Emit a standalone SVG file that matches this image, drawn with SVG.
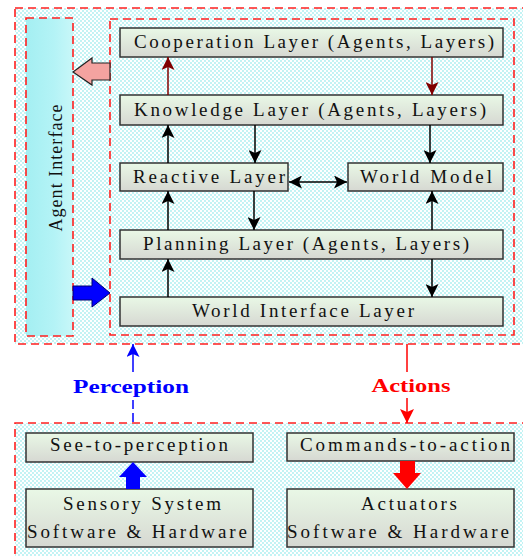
<svg xmlns="http://www.w3.org/2000/svg" width="523" height="556" viewBox="0 0 523 556">
<defs>
<pattern id="dots" width="4" height="4" patternUnits="userSpaceOnUse">
<rect width="4" height="4" fill="#ffffff"/>
<circle cx="1" cy="1" r="0.9" fill="#a6eef0"/>
<circle cx="3" cy="3" r="0.9" fill="#a6eef0"/>
</pattern>
<linearGradient id="nodeg" x1="0" y1="0" x2="0" y2="1">
<stop offset="0" stop-color="#e9f8e6"/>
<stop offset="1" stop-color="#d6d8d2"/>
</linearGradient>
<linearGradient id="cyang" x1="0" y1="0" x2="1" y2="0">
<stop offset="0" stop-color="#a4eff2"/>
<stop offset="0.6" stop-color="#b4f3f6"/>
<stop offset="1" stop-color="#c8f7f8"/>
</linearGradient>
<marker id="ah" markerWidth="13" markerHeight="13" refX="13" refY="6.5" orient="auto" markerUnits="userSpaceOnUse">
<path d="M0,0 L13,6.5 L0,13 L3,6.5 z" fill="#000"/>
</marker>
<marker id="ahs" markerWidth="13" markerHeight="13" refX="0" refY="6.5" orient="auto" markerUnits="userSpaceOnUse">
<path d="M13,0 L0,6.5 L13,13 L10,6.5 z" fill="#000"/>
</marker>
<marker id="ahr" markerWidth="13" markerHeight="13" refX="13" refY="6.5" orient="auto" markerUnits="userSpaceOnUse">
<path d="M0,0 L13,6.5 L0,13 L3,6.5 z" fill="#800000"/>
</marker>
<marker id="ahblue" markerWidth="13" markerHeight="13" refX="13" refY="6.5" orient="auto" markerUnits="userSpaceOnUse">
<path d="M0,0 L13,6.5 L0,13 L3,6.5 z" fill="#0000ff"/>
</marker>
<marker id="ahred" markerWidth="14" markerHeight="14" refX="14" refY="7" orient="auto" markerUnits="userSpaceOnUse">
<path d="M0,0 L14,7 L0,14 L3,7 z" fill="#ff0000"/>
</marker>
</defs>
<style>
.dash{fill:none;stroke:#ff2020;stroke-width:1.6;stroke-dasharray:8,5}
.node rect{fill:url(#nodeg);stroke:#333;stroke-width:1.5}
.node text{font-family:"Liberation Serif","Times New Roman",serif;font-size:19px;fill:#111;text-anchor:middle}
.conn line{stroke:#000;stroke-width:1.5}
.lbl{font-family:"Liberation Serif","Times New Roman",serif;font-size:18px;font-weight:bold;text-anchor:middle}
</style>
<rect width="523" height="556" fill="#ffffff"/>
<rect x="15" y="8" width="520" height="336" fill="url(#dots)"/>
<rect x="15" y="8" width="520" height="336" class="dash"/>
<rect x="110" y="19" width="404" height="316" class="dash"/>
<rect x="15" y="423" width="520" height="150" fill="url(#dots)"/>
<rect x="15" y="423" width="520" height="150" class="dash"/>

<g id="agent-interface">
<rect x="26" y="18" width="47" height="318" fill="url(#cyang)"/>
<rect x="26" y="18" width="47" height="318" class="dash"/>
<text transform="translate(62,168) rotate(-90)" font-family="'Liberation Serif','Times New Roman',serif" font-size="18" text-anchor="middle" fill="#111" textLength="127" lengthAdjust="spacing">Agent Interface</text>
</g>

<g id="cooperation" class="node"><rect x="120" y="28" width="383" height="29"/><text x="314" y="48" textLength="360" lengthAdjust="spacing">Cooperation Layer (Agents, Layers)</text></g>
<g id="knowledge" class="node"><rect x="120" y="95" width="383" height="30"/><text x="310" y="116" textLength="352" lengthAdjust="spacing">Knowledge Layer (Agents, Layers)</text></g>
<g id="reactive" class="node"><rect x="120" y="163" width="168" height="28"/><text x="209" y="183" textLength="152" lengthAdjust="spacing">Reactive Layer</text></g>
<g id="worldmodel" class="node"><rect x="348" y="163" width="155" height="28"/><text x="426" y="183" textLength="132" lengthAdjust="spacing">World Model</text></g>
<g id="planning" class="node"><rect x="120" y="230" width="383" height="29"/><text x="306" y="250" textLength="326" lengthAdjust="spacing">Planning Layer (Agents, Layers)</text></g>
<g id="worldinterface" class="node"><rect x="120" y="297" width="383" height="29"/><text x="303" y="317" textLength="222" lengthAdjust="spacing">World Interface Layer</text></g>

<g id="see" class="node"><rect x="26" y="433" width="227" height="29"/><text x="139" y="451" textLength="178" lengthAdjust="spacing">See-to-perception</text></g>
<g id="sensory" class="node"><rect x="26" y="489" width="227" height="58"/><text x="142" y="510" textLength="158" lengthAdjust="spacing">Sensory System</text><text x="137" y="538" textLength="220" lengthAdjust="spacing">Software &amp; Hardware</text></g>
<g id="commands" class="node"><rect x="287" y="433" width="227" height="28"/><text x="405" y="451" textLength="210" lengthAdjust="spacing">Commands-to-action</text></g>
<g id="actuators" class="node"><rect x="287" y="489" width="227" height="58"/><text x="409" y="510" textLength="96" lengthAdjust="spacing">Actuators</text><text x="398" y="538" textLength="222" lengthAdjust="spacing">Software &amp; Hardware</text></g>

<g id="connectors" class="conn">
<line x1="168" y1="95" x2="168" y2="57" style="stroke:#800000" marker-end="url(#ahr)"/>
<line x1="432" y1="57" x2="432" y2="95" style="stroke:#800000" marker-end="url(#ahr)"/>
<line x1="168" y1="163" x2="168" y2="125" marker-end="url(#ah)"/>
<line x1="255" y1="125" x2="255" y2="163" marker-end="url(#ah)"/>
<line x1="430" y1="125" x2="430" y2="163" marker-end="url(#ah)"/>
<line x1="168" y1="230" x2="168" y2="191" marker-end="url(#ah)"/>
<line x1="254" y1="191" x2="254" y2="230" marker-end="url(#ah)"/>
<line x1="289" y1="182" x2="347" y2="182" marker-start="url(#ahs)" marker-end="url(#ah)"/>
<line x1="432" y1="230" x2="432" y2="191" marker-end="url(#ah)"/>
<line x1="432" y1="259" x2="432" y2="297" marker-end="url(#ah)"/>
<line x1="168" y1="297" x2="168" y2="259" marker-end="url(#ah)"/>
<path d="M73,72 L92,58 L92,63 L110,63 L110,80 L92,80 L92,85 Z" fill="#f4a3a0" stroke="#222" stroke-width="1.2"/>
<path d="M110,293 L92,278 L92,286 L73,286 L73,300 L92,300 L92,307 Z" fill="#0000ff" stroke="#000070" stroke-width="1"/>
<line x1="133" y1="422" x2="133" y2="400" style="stroke:#0000ff;stroke-dasharray:9,4"/>
<line x1="133" y1="372" x2="133" y2="344" style="stroke:#0000ff" marker-end="url(#ahblue)"/>
<line x1="407" y1="344" x2="407" y2="372" style="stroke:#ff0000"/>
<line x1="407" y1="398" x2="407" y2="423" style="stroke:#ff0000" marker-end="url(#ahred)"/>
<path d="M133,462 L147,477 L140,477 L140,489 L126,489 L126,477 L119,477 Z" fill="#0000ff"/>
<path d="M400,461 L415,461 L415,473 L421,473 L407,489 L393,473 L400,473 Z" fill="#ff0000"/>
</g>
<text x="131" y="393" class="lbl" fill="#0000ff" textLength="116" lengthAdjust="spacingAndGlyphs">Perception</text>
<text x="411" y="392" class="lbl" fill="#ff0000" textLength="79" lengthAdjust="spacingAndGlyphs">Actions</text>
</svg>
